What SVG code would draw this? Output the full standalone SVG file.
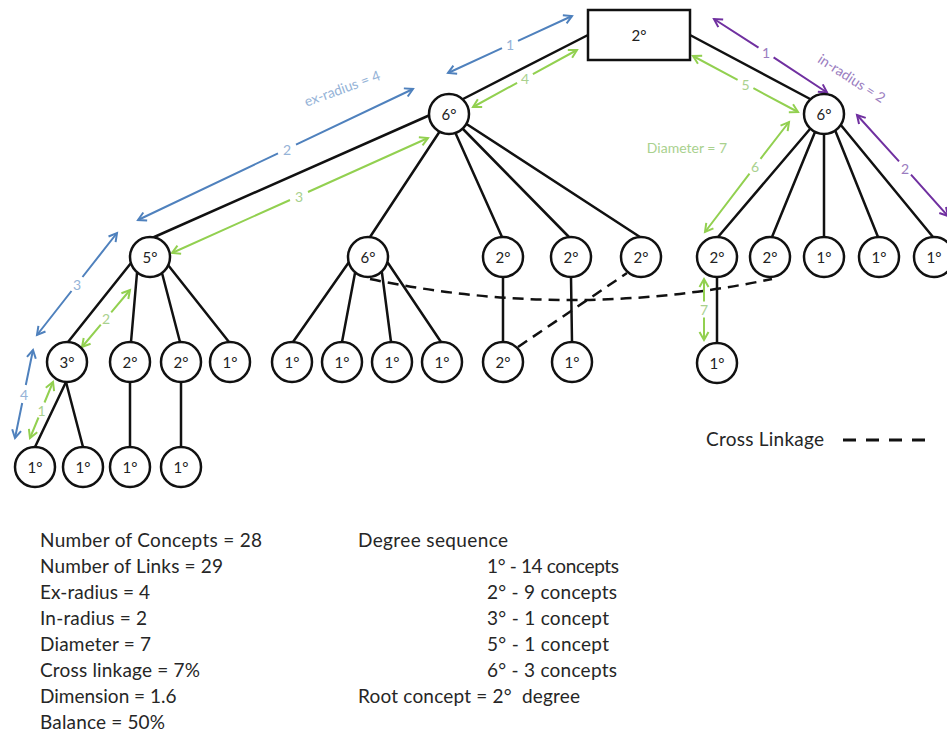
<svg xmlns="http://www.w3.org/2000/svg" width="947" height="734" viewBox="0 0 947 734">
<style>
.bg{fill:#fff}
.node circle,.node rect{fill:#fff;stroke:#111;stroke-width:2.5}
.node text{font-family:Lato,"Liberation Sans",sans-serif;font-size:15px;fill:#222;text-anchor:middle;dominant-baseline:central}
.link{stroke:#111;stroke-width:2.5;fill:none;stroke-linecap:round}
.cross{stroke:#111;stroke-width:2.5;fill:none;stroke-dasharray:11 7}
.ab{stroke:#4f81bd;stroke-width:2;fill:none;marker-start:url(#mb);marker-end:url(#mb)}
.ag{stroke:#92d050;stroke-width:2;fill:none;marker-start:url(#mg);marker-end:url(#mg)}
.ap{stroke:#7030a0;stroke-width:2;fill:none;marker-start:url(#mp);marker-end:url(#mp)}
.lab{font-family:Lato,"Liberation Sans",sans-serif;font-size:14px;text-anchor:middle;dominant-baseline:central}
.lb{fill:#95b3d7}.lg{fill:#a9d18e}.lp{fill:#9a7cc0}
.info{font-family:Lato,"Liberation Sans",sans-serif;font-size:19px;fill:#262626}
</style>
<defs>
<marker id="mb" markerUnits="userSpaceOnUse" markerWidth="12" markerHeight="12" refX="9" refY="6" orient="auto-start-reverse"><path d="M1,1.5 L9,6 L1,10.5" fill="none" stroke="#4f81bd" stroke-width="2"/></marker>
<marker id="mg" markerUnits="userSpaceOnUse" markerWidth="12" markerHeight="12" refX="9" refY="6" orient="auto-start-reverse"><path d="M1,1.5 L9,6 L1,10.5" fill="none" stroke="#92d050" stroke-width="2"/></marker>
<marker id="mp" markerUnits="userSpaceOnUse" markerWidth="12" markerHeight="12" refX="9" refY="6" orient="auto-start-reverse"><path d="M1,1.5 L9,6 L1,10.5" fill="none" stroke="#7030a0" stroke-width="2"/></marker>
</defs>
<rect class="bg" x="0" y="0" width="947" height="734"/>

<g id="connectors">
<line class="link" x1="588" y1="35" x2="463" y2="99"/>
<line class="link" x1="690" y1="35" x2="812" y2="100"/>
<line class="link" x1="430" y1="115" x2="152" y2="238"/>
<line class="link" x1="440" y1="131" x2="370" y2="237"/>
<line class="link" x1="455" y1="132" x2="502" y2="237"/>
<line class="link" x1="462" y1="128" x2="569" y2="237"/>
<line class="link" x1="465" y1="123" x2="640" y2="237"/>
<line class="link" x1="131" y1="263" x2="68" y2="342"/>
<line class="link" x1="137" y1="273" x2="131" y2="342"/>
<line class="link" x1="162" y1="273" x2="180" y2="342"/>
<line class="link" x1="168" y1="265" x2="229" y2="342"/>
<line class="link" x1="66" y1="382" x2="35" y2="447"/>
<line class="link" x1="66" y1="382" x2="83" y2="447"/>
<line class="link" x1="130" y1="382" x2="130" y2="447"/>
<line class="link" x1="181" y1="382" x2="181" y2="447"/>
<line class="link" x1="349" y1="262" x2="293" y2="342"/>
<line class="link" x1="355" y1="273" x2="342" y2="342"/>
<line class="link" x1="382" y1="273" x2="391" y2="342"/>
<line class="link" x1="388" y1="263" x2="441" y2="342"/>
<line class="link" x1="503" y1="277" x2="503" y2="342"/>
<line class="link" x1="571" y1="277" x2="572" y2="342"/>
<line class="link" x1="717" y1="277" x2="717" y2="343"/>
<line class="link" x1="810" y1="129" x2="718" y2="237"/>
<line class="link" x1="815" y1="132" x2="772" y2="237"/>
<line class="link" x1="824" y1="134" x2="824" y2="237"/>
<line class="link" x1="835" y1="130" x2="878" y2="237"/>
<line class="link" x1="840" y1="124" x2="933" y2="237"/>
<path class="cross" d="M370,279 Q571,321 772,279"/>
<path class="cross" d="M518,347 L627,273"/>
</g>

<g id="measures">
<path class="ab" d="M448,73 L502,48.2 M518,40.8 L572,16"/>
<path class="ab" d="M138,220 L278,153.3 M296,144.7 L413,89"/>
<path class="ab" d="M117,233 L82.5,277 M71.5,291 L37,335"/>
<path class="ab" d="M33,350 L25.8,385 M22.2,403 L15,438"/>
<path class="ag" d="M53,382 L44.5,402.5 M38.5,417.5 L30,438"/>
<path class="ag" d="M130,290 L111.2,312.4 M100.8,324.6 L82,347"/>
<path class="ag" d="M172,253 L290,200 M308,192 L428,138"/>
<path class="ag" d="M473,107 L517.1,82.8 M532.9,74.2 L577,50"/>
<path class="ag" d="M693,56 L737.6,79.8 M753.4,88.2 L798,112"/>
<path class="ag" d="M789,122 L760.5,158.8 M749.5,173.7 L705,232"/>
<path class="ag" d="M704,279 L704,301.5 M704,317.5 L704,340"/>
<path class="ap" d="M714,19 L758.5,47.6 M773.6,57.4 L827,92.5"/>
<path class="ap" d="M857,115 L899,161.3 M911,174.7 L948,216"/>
<text class="lab lb" x="510" y="44.5">1</text>
<text class="lab lb" x="287" y="149">2</text>
<text class="lab lb" x="77" y="284">3</text>
<text class="lab lb" x="24" y="394">4</text>
<text class="lab lg" x="41.5" y="410">1</text>
<text class="lab lg" x="106" y="318.5">2</text>
<text class="lab lg" x="299" y="196">3</text>
<text class="lab lg" x="525" y="78.5">4</text>
<text class="lab lg" x="745.5" y="84">5</text>
<text class="lab lg" x="755" y="166.5">6</text>
<text class="lab lg" x="704" y="309.5">7</text>
<text class="lab lp" x="766" y="52.5">1</text>
<text class="lab lp" x="905" y="168">2</text>
<text class="lab lb" x="342" y="88" transform="rotate(-20 342 88)" fill="#7fa0c8">ex-radius = 4</text>
<text class="lab lp" x="852" y="78" transform="rotate(33 852 78)">in-radius = 2</text>
<text class="lab lg" x="687" y="147" font-size="13">Diameter = 7</text>
</g>

<g id="root" class="node"><rect x="588" y="10" width="102" height="50"/><text x="639" y="35">2°</text></g>
<g id="n6a" class="node"><circle cx="449" cy="114" r="20"/><text x="449" y="114">6°</text></g>
<g id="n6b" class="node"><circle cx="824" cy="114" r="20"/><text x="824" y="114">6°</text></g>
<g id="n5" class="node"><circle cx="150" cy="257" r="20"/><text x="150" y="257">5°</text></g>
<g id="n6c" class="node"><circle cx="368" cy="257" r="20"/><text x="368" y="257">6°</text></g>
<g id="n2a" class="node"><circle cx="503" cy="257" r="20"/><text x="503" y="257">2°</text></g>
<g id="n2b" class="node"><circle cx="571" cy="257" r="20"/><text x="571" y="257">2°</text></g>
<g id="n2c" class="node"><circle cx="641" cy="257" r="20"/><text x="641" y="257">2°</text></g>
<g id="n2d" class="node"><circle cx="717" cy="257" r="20"/><text x="717" y="257">2°</text></g>
<g id="n2e" class="node"><circle cx="770" cy="257" r="20"/><text x="770" y="257">2°</text></g>
<g id="n1a" class="node"><circle cx="824" cy="257" r="20"/><text x="824" y="257">1°</text></g>
<g id="n1b" class="node"><circle cx="879" cy="257" r="20"/><text x="879" y="257">1°</text></g>
<g id="n1c" class="node"><circle cx="934" cy="257" r="20"/><text x="934" y="257">1°</text></g>
<g id="n3" class="node"><circle cx="67" cy="362" r="20"/><text x="67" y="362">3°</text></g>
<g id="n2f" class="node"><circle cx="130" cy="362" r="20"/><text x="130" y="362">2°</text></g>
<g id="n2g" class="node"><circle cx="181" cy="362" r="20"/><text x="181" y="362">2°</text></g>
<g id="n1d" class="node"><circle cx="230" cy="362" r="20"/><text x="230" y="362">1°</text></g>
<g id="n1e" class="node"><circle cx="292" cy="362" r="20"/><text x="292" y="362">1°</text></g>
<g id="n1f" class="node"><circle cx="342" cy="362" r="20"/><text x="342" y="362">1°</text></g>
<g id="n1g" class="node"><circle cx="392" cy="362" r="20"/><text x="392" y="362">1°</text></g>
<g id="n1h" class="node"><circle cx="442" cy="362" r="20"/><text x="442" y="362">1°</text></g>
<g id="n2h" class="node"><circle cx="503" cy="362" r="20"/><text x="503" y="362">2°</text></g>
<g id="n1i" class="node"><circle cx="572" cy="362" r="20"/><text x="572" y="362">1°</text></g>
<g id="n1j" class="node"><circle cx="717" cy="363" r="20"/><text x="717" y="363">1°</text></g>
<g id="n1k" class="node"><circle cx="35" cy="467" r="20"/><text x="35" y="467">1°</text></g>
<g id="n1l" class="node"><circle cx="83" cy="467" r="20"/><text x="83" y="467">1°</text></g>
<g id="n1m" class="node"><circle cx="130" cy="467" r="20"/><text x="130" y="467">1°</text></g>
<g id="n1n" class="node"><circle cx="181" cy="467" r="20"/><text x="181" y="467">1°</text></g>

<g id="legend">
<text class="info" x="706" y="446" font-size="18" textLength="118">Cross Linkage</text>
<line x1="843" y1="440" x2="925" y2="440" stroke="#111" stroke-width="3" stroke-dasharray="13 10"/>
</g>

<g id="stats">
<text class="info" x="40" y="547" textLength="222">Number of Concepts = 28</text>
<text class="info" x="40" y="573" textLength="183">Number of Links = 29</text>
<text class="info" x="40" y="599" textLength="110">Ex-radius = 4</text>
<text class="info" x="40" y="625" textLength="107">In-radius = 2</text>
<text class="info" x="40" y="651" textLength="111">Diameter = 7</text>
<text class="info" x="40" y="677" textLength="160">Cross linkage = 7%</text>
<text class="info" x="40" y="703">Dimension = 1.6</text>
<text class="info" x="40" y="729" textLength="125">Balance = 50%</text>
<text class="info" x="358" y="547" textLength="150">Degree sequence</text>
<text class="info" x="487" y="573" textLength="132">1° - 14 concepts</text>
<text class="info" x="487" y="599" textLength="130">2° - 9 concepts</text>
<text class="info" x="487" y="625" textLength="122">3° - 1 concept</text>
<text class="info" x="487" y="651" textLength="122">5° - 1 concept</text>
<text class="info" x="487" y="677" textLength="130">6° - 3 concepts</text>
<text class="info" x="358" y="703" textLength="222" xml:space="preserve">Root concept = 2°  degree</text>
</g>
</svg>
